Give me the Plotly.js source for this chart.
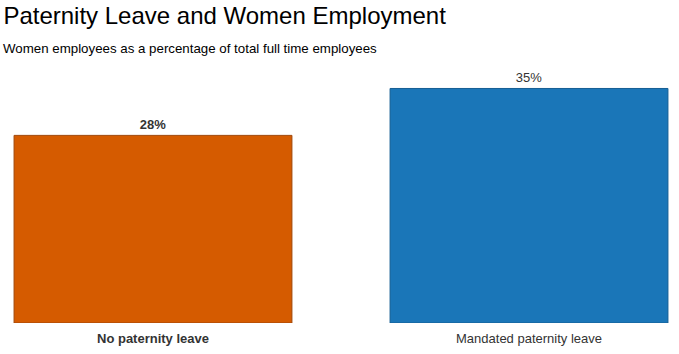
<!DOCTYPE html>
<html><head><meta charset="utf-8">
<script src="https://cdn.plot.ly/plotly-3.0.1.min.js"></script>
<style>html,body{margin:0;padding:0;background:#fff}#chart{width:679px;height:354px}</style>
</head><body><div id="chart"></div>
<script>
const categories = ["No paternity leave", "Mandated paternity leave"];
const values = [28, 35];
const labels = ["<b>28%</b>", "35%"];
const tickLabels = ["<b>No paternity leave</b>", "Mandated paternity leave"];

const trace = {
  type: "bar",
  x: categories,
  y: values,
  text: labels,
  textposition: "outside",
  cliponaxis: false,
  textfont: {family: "Liberation Sans, Arial, sans-serif", size: 13, color: "#333"},
  marker: {color: ["#D55B00", "#1A76B8"], line: {color: ["#A0470A", "#155E94"], width: 1}},
  width: 0.739,
  hoverinfo: "none"
};

const layout = {
  width: 679, height: 354,
  margin: {l: 5, r: 5, t: 60, b: 31},
  paper_bgcolor: "#fff", plot_bgcolor: "#fff",
  title: {text: "Paternity Leave and Women Employment", x: 0.005, xanchor: "left", yref: "container", y: 0.957, yanchor: "middle",
    font: {family: "Liberation Sans, Arial, sans-serif", size: 24, color: "#000"}},
  annotations: [{text: "Women employees as a percentage of total full time employees", xref: "paper", yref: "paper",
    x: -0.006, xanchor: "left", y: 1.0, yshift: 12, yanchor: "middle", showarrow: false,
    font: {family: "Liberation Sans, Arial, sans-serif", size: 13.3, color: "#000"}}],
  xaxis: {type: "category", range: [-0.3936, 1.3856], tickvals: categories, ticktext: tickLabels,
    showgrid: false, zeroline: false, showline: false, ticks: "", ticklabelstandoff: 6,
    tickfont: {family: "Liberation Sans, Arial, sans-serif", size: 13, color: "#333"}},
  yaxis: {range: [0, 39.25], visible: false, showgrid: false, zeroline: false},
  showlegend: false
};

Plotly.newPlot("chart", [trace], layout, {displayModeBar: false, staticPlot: true});
</script></body></html>
